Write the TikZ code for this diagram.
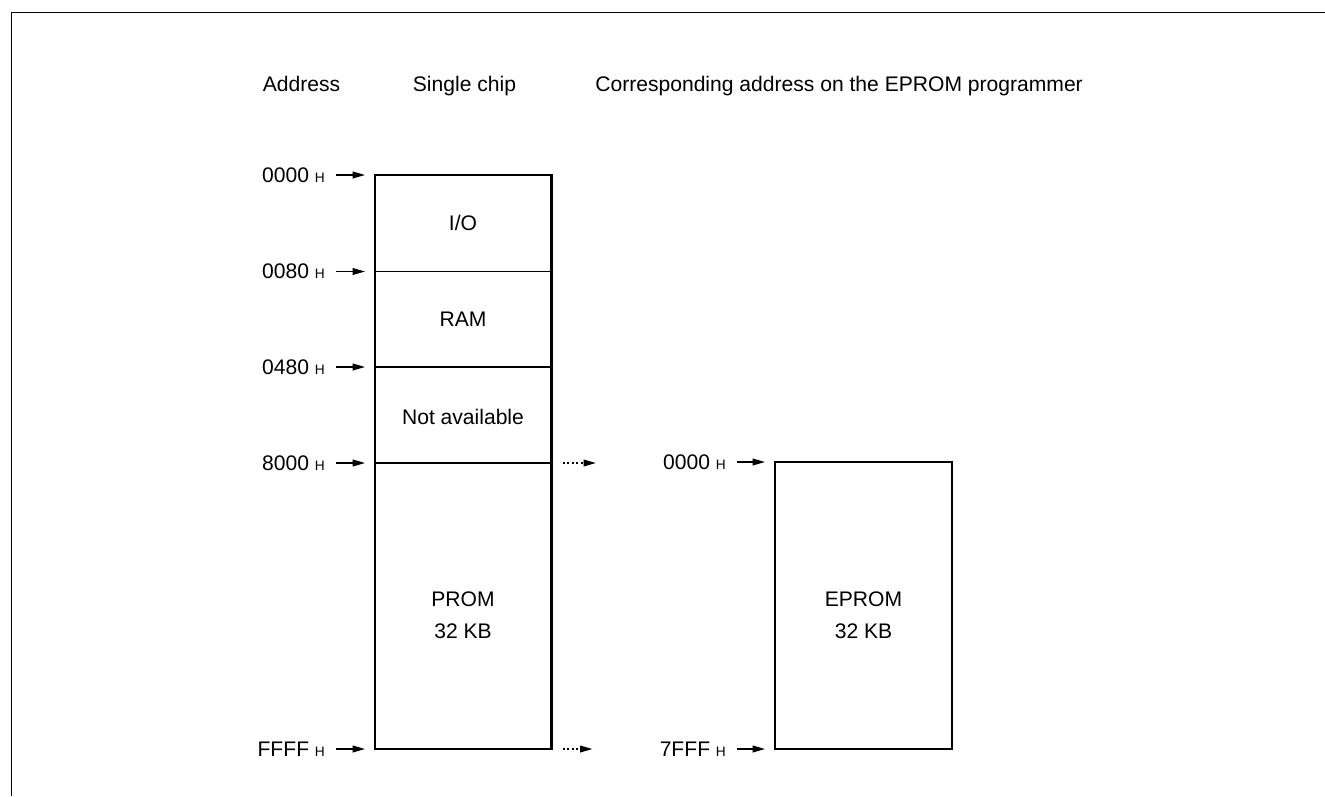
\documentclass[tikz,border=0pt]{standalone}
\usepackage{fontspec}
\setmainfont{Liberation Sans}
\usetikzlibrary{arrows.meta}

\newcommand{\hsuf}{\hspace{3.2pt}{\fontsize{7.8}{8}\selectfont H}}

\tikzset{
	ptr/.style={line width=0.8pt, -{Triangle[length=7pt,width=3.8pt]}, shorten <=0.22cm, shorten >=0.2cm},
	dotptr/.style={ptr, dash pattern=on 1.3pt off 1.3pt},
	addr/.style={anchor=east, inner sep=0pt},
	head/.style={anchor=base, inner sep=0pt},
	area/.style={align=center}
}

\begin{document}
\begin{tikzpicture}[x=0.02cm,y=-0.02cm,font=\fontsize{12}{14}\selectfont]

		\useasboundingbox (0,0) rectangle (1325,796);

		% single chip map
		\coordinate (A0) at (375,175);
		\coordinate (A1) at (375,271.5);
		\coordinate (A2) at (375,367);
		\coordinate (A3) at (375,463);
		\coordinate (A4) at (375,749);
		\coordinate (B3) at (551.5,463);
		\coordinate (B4) at (551.5,749);

		% EPROM
		\coordinate (C0) at (775,462);
		\coordinate (C1) at (775,749);
		\coordinate (D1) at (952,749);

		\draw [line width=0.85pt] (11.5,796) -- (11.5,12.5) -- (1325,12.5);

		\node [head] (addr) at (301.5,91) {Address};
		\node [head] (single) at (464.5,91) {Single chip};
		\node [head, anchor=base west] (corr) at (595,91) {Corresponding address on the EPROM programmer};

		\draw [line width=0.75pt] (A1) -- (A1 -| B3);
		\draw [line width=0.75pt] (A2) -- (A2 -| B3);
		\draw [line width=0.75pt] (A3) -- (B3);
		\draw [line width=1.5pt] (A0) rectangle (B4);
		\draw [line width=1.5pt] (C0) rectangle (D1);

		\node [area] (io) at (463,223) {I/O};
		\node [area] (ram) at (463,319) {RAM};
		\node [area] (na) at (463,417) {Not available};
		\node [area] (prom) at (463,615.5) {PROM\\[4.4pt]32 KB};
		\node [area] (eprom) at (863.5,615.5) {EPROM\\[4.4pt]32 KB};

		\node [addr] (L0) at (325,175) {0000\hsuf};
		\node [addr] (L1) at (325,271.5) {0080\hsuf};
		\node [addr] (L2) at (325,367) {0480\hsuf};
		\node [addr] (L3) at (325,463) {8000\hsuf};
		\node [addr] (L4) at (325,749) {FFFF\hsuf};
		\node [addr] (R0) at (726,462) {0000\hsuf};
		\node [addr] (R1) at (726,749) {7FFF\hsuf};

		\draw [ptr] (L0) -- (A0);
		\draw [ptr] (L1) -- (A1);
		\draw [ptr] (L2) -- (A2);
		\draw [ptr] (L3) -- (A3);
		\draw [ptr] (L4) -- (A4);
		\draw [ptr] (R0) -- (C0);
		\draw [ptr] (R1) -- (C1);

		\draw [dotptr, shorten >=1.34cm] (B3) -- (B3 -| R0.west);
		\draw [dotptr, shorten >=1.34cm] (B4) -- (R1);

\end{tikzpicture}
\end{document}
